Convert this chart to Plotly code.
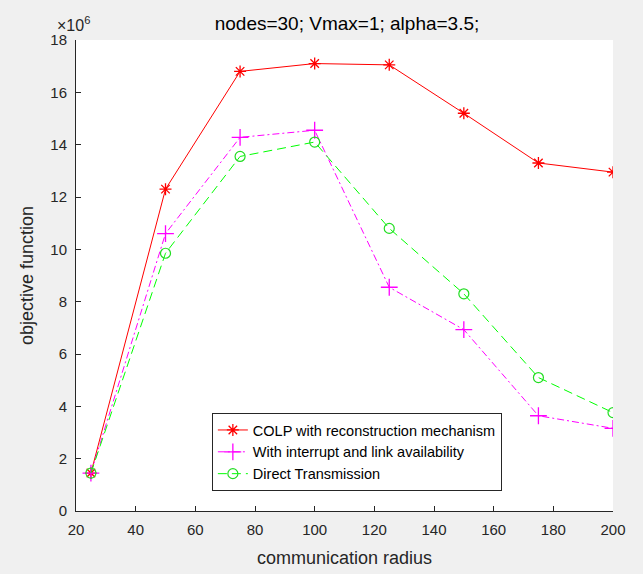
import plotly.graph_objects as go

# Communication radius values (x) and objective function values (units of 1e6)
radius = [25, 50, 75, 100, 125, 150, 175, 200]
colp = [1.45, 12.3, 16.8, 17.1, 17.05, 15.2, 13.3, 12.95]
interrupt = [1.45, 10.6, 14.28, 14.55, 8.55, 6.93, 3.64, 3.16]
direct = [1.45, 9.85, 13.55, 14.1, 10.8, 8.3, 5.1, 3.76]

x_ticks = [20, 40, 60, 80, 100, 120, 140, 160, 180, 200]
y_ticks = [0, 2, 4, 6, 8, 10, 12, 14, 16, 18]

FONT = "Liberation Sans, Arial, sans-serif"
AXIS_COLOR = "#262626"

fig = go.Figure()

fig.add_trace(go.Scatter(
    x=radius, y=colp, mode="lines+markers",
    name="COLP with reconstruction mechanism",
    line=dict(color="#ff0000", width=1),
    marker=dict(symbol="asterisk-open", size=10, color="#ff0000",
                line=dict(color="#ff0000", width=1.3)),
))
fig.add_trace(go.Scatter(
    x=radius, y=interrupt, mode="lines+markers",
    name="With interrupt and link availability",
    line=dict(color="#ff00ff", width=1, dash="7px,3px,2px,3px"),
    marker=dict(symbol="cross-thin-open", size=12, color="#ff00ff",
                line=dict(color="#ff00ff", width=1.3)),
))
fig.add_trace(go.Scatter(
    x=radius, y=direct, mode="lines+markers",
    name="Direct Transmission",
    line=dict(color="#00ff00", width=1, dash="9px,5px"),
    marker=dict(symbol="circle-open", size=10, color="#22dd22",
                line=dict(color="#22dd22", width=1.2)),
))

axis_common = dict(
    showline=True, linecolor=AXIS_COLOR, linewidth=1,
    ticks="inside", ticklen=5, tickcolor=AXIS_COLOR, tickwidth=1,
    showgrid=False, zeroline=False, mirror=False, automargin=False,
    tickfont=dict(family=FONT, size=15, color=AXIS_COLOR),
)

fig.update_xaxes(
    range=[20, 200], tickvals=x_ticks, ticktext=[str(v) for v in x_ticks],
    ticklabelstandoff=5,
    title=dict(text="communication radius", standoff=14,
               font=dict(family=FONT, size=18, color=AXIS_COLOR)),
    **axis_common,
)
fig.update_yaxes(
    range=[0, 18], tickvals=y_ticks, ticktext=[str(v) for v in y_ticks],
    ticklabelstandoff=5,
    title=dict(text="objective function", standoff=12,
               font=dict(family=FONT, size=18, color=AXIS_COLOR)),
    **axis_common,
)

fig.update_layout(
    width=643, height=574,
    margin=dict(l=76, r=30, t=40, b=63),
    paper_bgcolor="#f0f0f0",
    plot_bgcolor="#ffffff",
    title=dict(text="nodes=30; Vmax=1; alpha=3.5;", x=347 / 643, xanchor="center",
               xref="container",
               y=1 - 23 / 574, yanchor="middle",
               font=dict(family=FONT, size=19, color="#000000")),
    legend=dict(
        x=0.253, y=0.208, xanchor="left", yanchor="top",
        bgcolor="#ffffff", bordercolor="#262626", borderwidth=1,
        font=dict(family=FONT, size=14.5, color="#000000"),
        tracegroupgap=0,
    ),
    annotations=[dict(
        text="\u00d710<sup>6</sup>", xref="paper", yref="paper",
        x=-0.04, y=1.009, xanchor="left", yanchor="bottom",
        showarrow=False, font=dict(family=FONT, size=16, color=AXIS_COLOR),
    )],
)

fig.write_html("out.html")
